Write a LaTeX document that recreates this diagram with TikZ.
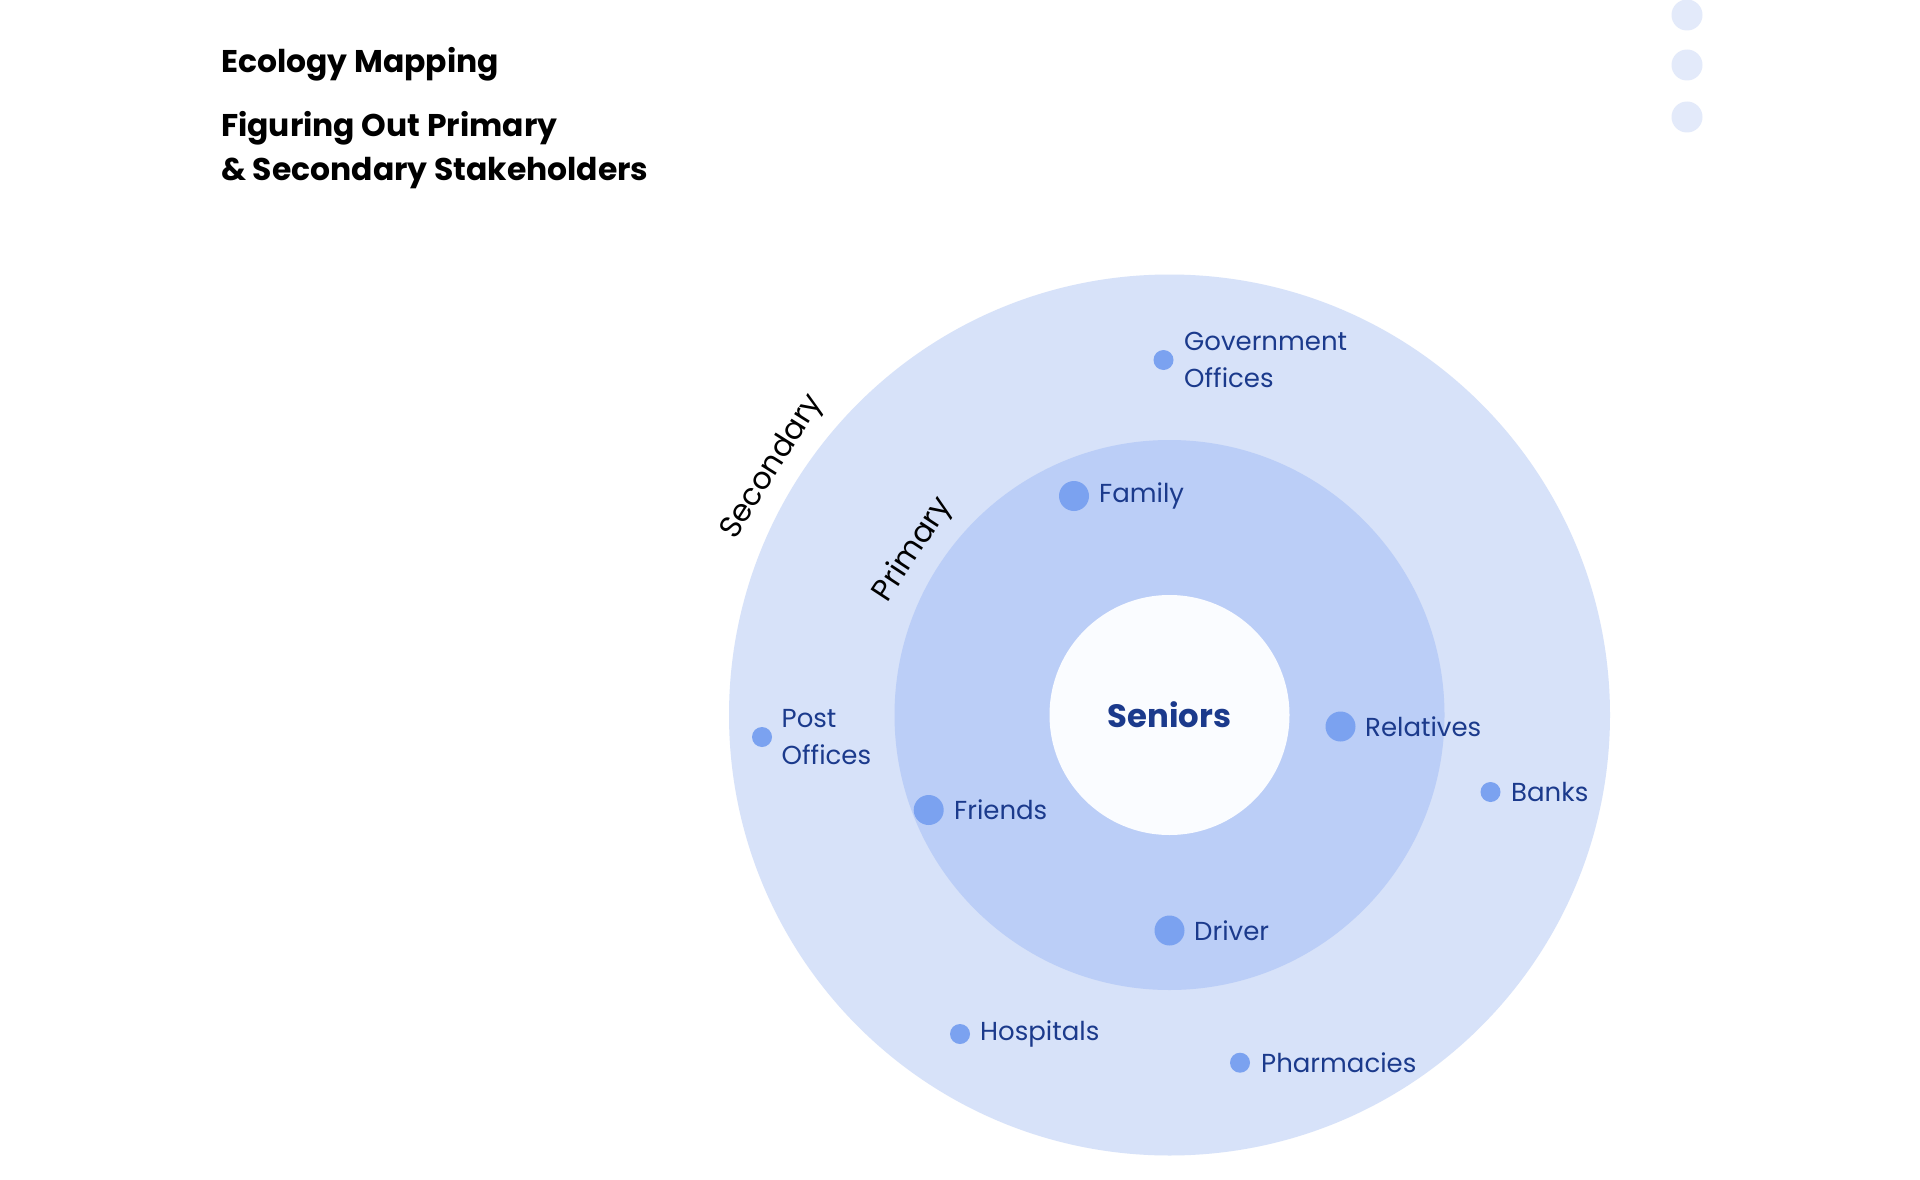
\documentclass[tikz,border=0pt]{standalone}
\usepackage{fontspec}
\setmainfont{Poppins}
\definecolor{outerc}{HTML}{D7E2F9}
\definecolor{midc}{HTML}{BBCEF7}
\definecolor{innerc}{HTML}{FAFCFF}
\definecolor{dotc}{HTML}{7BA2F0}
\definecolor{txtc}{HTML}{1B3A8C}
\definecolor{menuc}{HTML}{E3EAFA}
\begin{document}
\begin{tikzpicture}[x=1pt,y=-1pt,
  ring/.style={circle,inner sep=0pt,minimum size=#1},
  bigdot/.style={circle,fill=dotc,inner sep=0pt,minimum size=30pt},
  smalldot/.style={circle,fill=dotc,inner sep=0pt,minimum size=20pt},
  lbl/.style={anchor=west,inner sep=0pt,text=txtc,align=left,font=\fontsize{26}{37}\selectfont},
  ttl/.style={anchor=base west,inner sep=0pt,font=\fontsize{31.4}{40}\selectfont\bfseries},
  ringlbl/.style={inner sep=0pt,font=\fontsize{30.5}{34}\selectfont},
  menudot/.style={circle,fill=menuc,inner sep=0pt,minimum size=31pt}]
\useasboundingbox[fill=white] (0,0) rectangle (1920,1180);
% titles
\node[ttl] (t1) at (221,73) {Ecology Mapping};
\node[ttl] (t2) at (221,137) {Figuring Out Primary};
\node[ttl] (t3) at (221,181) {\& Secondary Stakeholders};
% menu dots
\node[menudot] (m1) at (1687,15) {};
\node[menudot] (m2) at (1687,65) {};
\node[menudot] (m3) at (1687,117) {};
% rings
\node[ring=881pt,fill=outerc] (outer) at (1169.5,715) {};
\node[ring=550pt,fill=midc] (mid) at (1169.5,715) {};
\node[ring=240pt,fill=innerc] (inner) at (1169.5,715) {};
\node[text=txtc,font=\fontsize{32.3}{36}\selectfont\bfseries] (sen) at (1169.5,715) {Seniors};
% ring labels
\node[ringlbl,rotate=57.8] (sec) at (772.6,467) {Secondary};
\node[ringlbl,rotate=56.8] (pri) at (913.5,550) {Primary};
% primary stakeholders
\node[bigdot] (d1) at (1074,496) {};
\node[lbl] (l1) at (1099,496) {Family};
\node[bigdot] (d2) at (1340.5,726.5) {};
\node[lbl] (l2) at (1365,726.5) {Relatives};
\node[bigdot] (d3) at (928.7,810) {};
\node[lbl] (l3) at (954,810) {Friends};
\node[bigdot] (d4) at (1169.5,930.5) {};
\node[lbl] (l4) at (1194,930.5) {Driver};
% secondary stakeholders
\node[smalldot] (s1) at (1163.5,360) {};
\node[lbl] (k1) at (1184,360) {Government\\Offices};
\node[smalldot] (s2) at (762,737) {};
\node[lbl] (k2) at (781.5,737) {Post\\Offices};
\node[smalldot] (s3) at (1490.5,792) {};
\node[lbl] (k3) at (1511,792) {Banks};
\node[smalldot] (s4) at (960,1034) {};
\node[lbl] (k4) at (980,1034) {Hospitals};
\node[smalldot] (s5) at (1240,1062.7) {};
\node[lbl] (k5) at (1261,1062.7) {Pharmacies};
\end{tikzpicture}
\end{document}
